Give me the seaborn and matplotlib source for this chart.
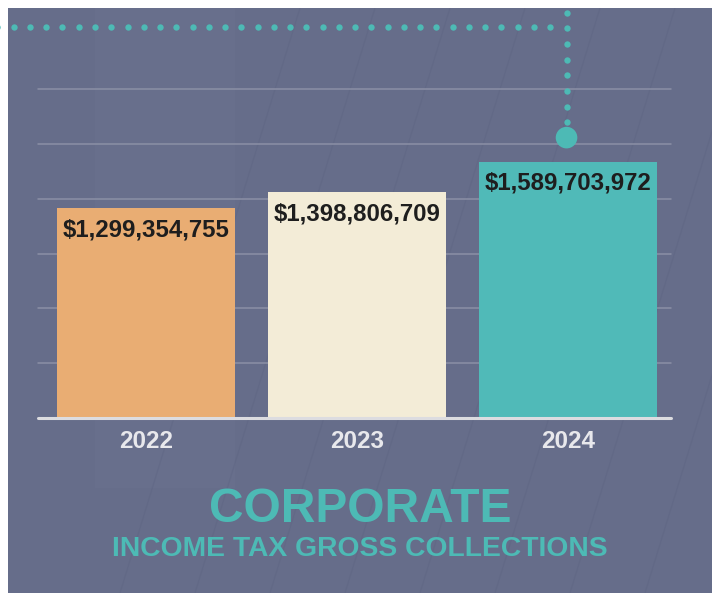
import numpy as np
import matplotlib
matplotlib.use("Agg")
import matplotlib.pyplot as plt
from matplotlib.patches import Rectangle, Circle
import seaborn as sns

# veriler
years = ["2022", "2023", "2024"]
collections = [1299354755, 1398806709, 1589703972]
value_labels = [f"${v:,}" for v in collections]
bar_colors = ["#e9ad73", "#f3ecd7", "#50bab8"]
title_main = "CORPORATE"
title_sub = "INCOME TAX GROSS COLLECTIONS"

W, H = 715, 593
teal = "#4dbab5"
bg_color = "#666d8a"

sns.set_theme(style="white")
plt.rcParams["font.family"] = ["Liberation Sans", "DejaVu Sans"]

fig = plt.figure(figsize=(W / 100, H / 100), dpi=100, facecolor="white")

# arka plan paneli
bg = fig.add_axes([0, 0, 1, 1], zorder=0)
bg.set_xlim(0, W)
bg.set_ylim(H, 0)
bg.axis("off")
panel = Rectangle((8, 8), 704, H - 8, color=bg_color, lw=0)
bg.add_patch(panel)
# hafif bina dokusu
for x0 in np.arange(300, 1000, 75):
    ln, = bg.plot([x0, x0 - 180], [8, H], color="#5c6381", lw=1.0, alpha=0.35)
    ln.set_clip_path(panel)
bg.add_patch(Rectangle((95, 8), 140, 480, color="#7a819b", lw=0, alpha=0.15))

# ana grafik
ax = fig.add_axes([38 / W, (H - 418) / H, 633 / W, 329 / H], zorder=1)
ax.patch.set_alpha(0)
sns.barplot(x=years, y=collections, hue=years, palette=bar_colors, legend=False,
            width=0.84, saturation=1, linewidth=0, ax=ax, zorder=2)

step = 3.4e8
ax.set_ylim(0, 6 * step)
ax.set_xlim(-0.512, 2.488)
ax.set_yticks(np.arange(1, 7) * step)
ax.yaxis.grid(True, color="#8b90a6", lw=1.1, zorder=0)
ax.set_axisbelow(True)
for g in ax.get_ygridlines():
    g.set_clip_on(False)
ax.tick_params(axis="y", left=False, labelleft=False)
ax.tick_params(axis="x", length=0, pad=8.5, labelsize=17.5, labelcolor="#e8e8ec")
for t in ax.get_xticklabels():
    t.set_fontweight("bold")
for s in ax.spines.values():
    s.set_visible(False)
ax.axhline(0, color="#dcdce0", lw=2.2, zorder=3, clip_on=False)
ax.set_xlabel("")
ax.set_ylabel("")

# çubuk üstü değerler
for i, (v, lab) in enumerate(zip(collections, value_labels)):
    ax.annotate(lab, (i, v), xytext=(0, -20.2), textcoords="offset points",
                ha="center", va="baseline", fontsize=17.3, fontweight="bold",
                color="#1e1e1e", zorder=4)

# noktalı çizgi ve daire (2024 çubuğuna bağlı)
deco = fig.add_axes([0, 0, 1, 1], zorder=3)
deco.set_xlim(0, W)
deco.set_ylim(H, 0)
deco.axis("off")
deco.patch.set_alpha(0)
cx, top_disp = ax.transData.transform((2, collections[2]))
top_px = H - top_disp
cx -= 1.5
cy = top_px - 24
deco.add_patch(Circle((cx, cy), 10.8, color=teal, lw=0))
vy = np.arange(cy - 15.2, 5, -15.7)
deco.scatter(np.full(len(vy), cx), vy, s=21, color=teal, lw=0)
hx = np.arange(cx - 16.26, -4, -16.26)
deco.scatter(hx, np.full(len(hx), 27.3), s=21, color=teal, lw=0)

# başlıklar
fig.text(360 / W, 1 - 522 / H, title_main, ha="center", va="baseline",
         fontsize=34.5, fontweight="bold", color=teal)
fig.text(359.5 / W, 1 - 556 / H, title_sub, ha="center", va="baseline",
         fontsize=20.3, fontweight="bold", color=teal)

plt.savefig("out.png", dpi=100, facecolor="white")
